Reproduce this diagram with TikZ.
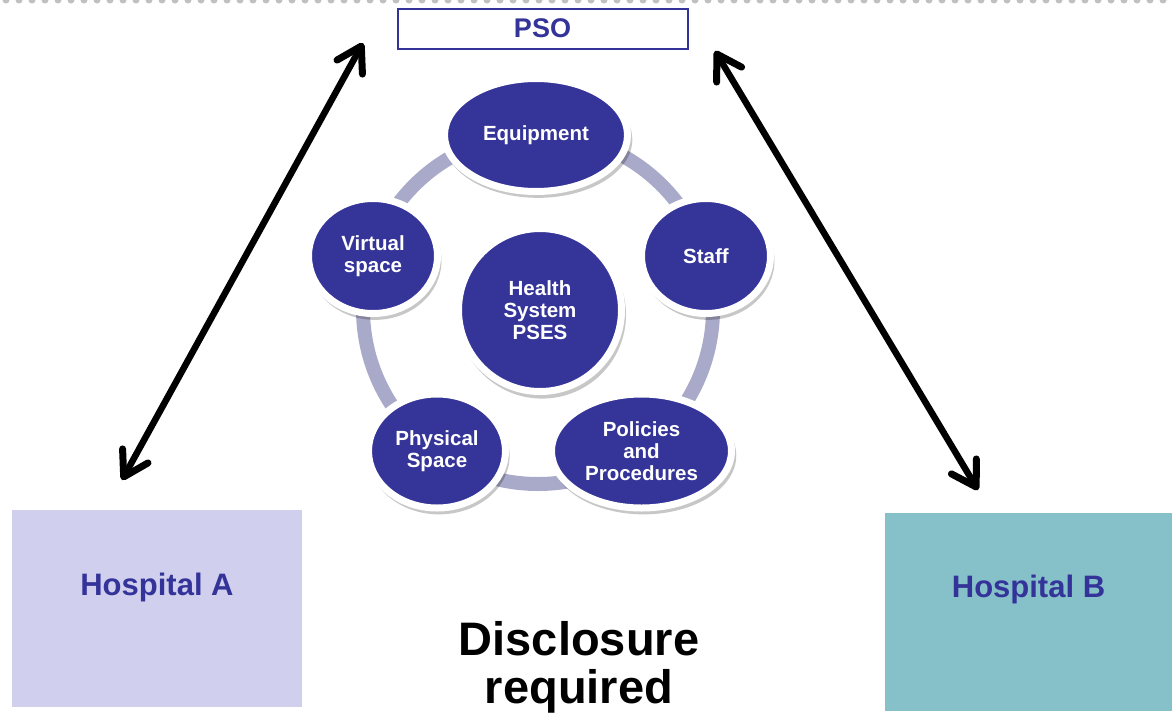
\documentclass[tikz,border=0pt]{standalone}
\usepackage{fontspec}
\setmainfont{Liberation Sans}
\usetikzlibrary{shapes.geometric,arrows.meta,shadows}
\definecolor{navy}{RGB}{51,51,153}
\definecolor{bubfill}{RGB}{53,52,152}
\definecolor{ringcol}{RGB}{169,170,201}
\definecolor{hospA}{RGB}{208,208,238}
\definecolor{hospB}{RGB}{134,192,201}
\definecolor{dotgray}{RGB}{192,192,192}
\tikzset{
  bub/.style={ellipse, fill=bubfill, draw=white, line width=7pt, inner sep=0pt,
    text=white, align=center, font=\bfseries\fontsize{20.5}{22}\selectfont,
    drop shadow={shadow xshift=2pt, shadow yshift=-4.5pt, shadow scale=1.03, opacity=0.22, fill=black}},
  psobox/.style={rectangle, draw=navy, line width=2pt, fill=white, text=navy,
    font=\bfseries\fontsize{27}{30}\selectfont, inner sep=0pt},
  hosp/.style={rectangle, draw=none, text=navy, inner sep=0pt,
    font=\bfseries\fontsize{31}{34}\selectfont},
  barb/.tip={Straight Barb[length=24pt,width=29pt,line width=7pt,round]},
  dbl/.style={line width=6.5pt, barb-barb},
  dotline/.style={draw=dotgray, line width=7pt, line cap=round, dash pattern=on 0pt off 13pt},
  bigtext/.style={font=\bfseries\fontsize{47}{48}\selectfont, align=center, text=black}
}
\begin{document}
\begin{tikzpicture}[x=1pt,y=-1pt]
\useasboundingbox (0,0) rectangle (1172,718);
% top dotted line
\coordinate (dl) at (6,0);
\coordinate (dr) at (1172,0);
\draw[dotline] (dl) -- (dr);
% PSO
\node[psobox, minimum width=290pt, minimum height=40pt] (pso) at (542.5,28.5) {PSO};
% ring
\coordinate (ctr) at (538,309);
\draw[ringcol, line width=14pt] (ctr) circle (175pt);
% bubbles
\node[bub, minimum width=183pt, minimum height=113pt] (equip) at (536,135) {Equipment};
\node[bub, minimum width=129pt, minimum height=115pt] (staff) at (706,256) {Staff};
\node[bub, minimum width=129pt, minimum height=115pt] (virt) at (373,256) {Virtual\\space};
\node[bub, circle, minimum size=163pt] (pses) at (540,310) {Health\\System\\PSES};
\node[bub, minimum width=137pt, minimum height=114pt] (phys) at (437,451) {Physical\\Space};
\node[bub, minimum width=180pt, minimum height=114pt] (pol) at (641.5,451) {Policies\\and\\Procedures};
% hospitals
\node[hosp, fill=hospA, minimum width=290pt, minimum height=197pt, text height=22pt, text depth=49pt] (hA) at (157,608.5) {Hospital A};
\node[hosp, fill=hospB, minimum width=287pt, minimum height=198pt, text height=22pt, text depth=52pt] (hB) at (1028.5,612) {Hospital B};
% arrows
\coordinate (aA) at (122,480);
\coordinate (aP1) at (363,43);
\coordinate (aP2) at (715,51);
\coordinate (aB) at (978,490);
\draw[dbl] (aA) -- (aP1);
\draw[dbl] (aP2) -- (aB);
% disclosure
\node[bigtext] (disc) at (579,667) {Disclosure\\required};
\end{tikzpicture}
\end{document}
